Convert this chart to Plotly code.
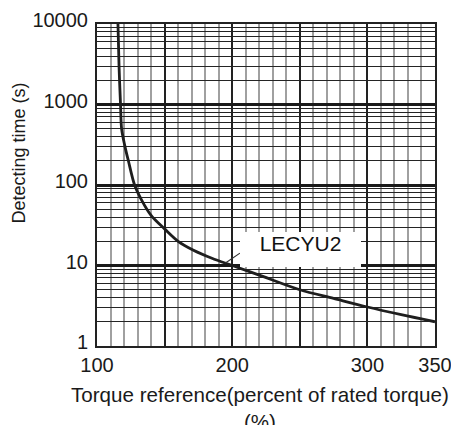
import numpy as np
import plotly.graph_objects as go

# Overload detection characteristic: torque reference (%) vs detecting time (s)
torque = [115.5, 116.3, 117.4, 118.2, 120.7, 123.2, 127.8, 133, 140, 150,
          160, 171, 185, 200, 220, 250, 275, 300, 325, 350]
detect_time = [10000, 3000, 1000, 500, 300, 200, 100, 65, 42, 28.5,
               20, 15.6, 12.3, 10, 7.6, 5.0, 3.9, 3.05, 2.45, 2.0]

x_grid_vals = [100, 150, 200, 250, 300, 350]
x_tick_text = ["100", "", "200", "", "300", "350"]
y_tick_vals = [1, 10, 100, 1000, 10000]
y_tick_text = ["1", "10", "100", "1000", "10000"]
series_label = "LECYU2"
x_title = "Torque reference(percent of rated torque)<br>(%)"
y_title = "Detecting time (s)"

FONT = "Liberation Sans, Arial, sans-serif"
INK = "#1a1a1a"

fig = go.Figure()
fig.add_trace(go.Scatter(
    x=torque, y=detect_time, mode="lines",
    line=dict(color="#1e1e1e", width=2.8, shape="spline", smoothing=0.9),
    hoverinfo="skip", showlegend=False,
))

# leader point on the curve for the series label
lead_x = 195
lead_y = float(np.exp(np.interp(lead_x, torque, np.log(detect_time))))

fig.update_layout(
    width=451, height=425,
    margin=dict(l=97, r=16, t=24, b=79, autoexpand=False),
    paper_bgcolor="white", plot_bgcolor="white",
    font=dict(family=FONT, color=INK, size=20),
    xaxis=dict(
        range=[100, 350], tickmode="array", tickvals=x_grid_vals, ticktext=x_tick_text,
        showgrid=True, gridcolor="#222222", gridwidth=1.6,
        minor=dict(dtick=10, tick0=100, showgrid=True, gridcolor="#a0a0a0", gridwidth=2),
        showline=True, mirror=True, linecolor="#222222", linewidth=2,
        ticks="", zeroline=False, tickfont=dict(size=20),
        ticklabeloverflow="allow", automargin=False,
    ),
    yaxis=dict(
        type="log", range=[0, 4], tickmode="array", tickvals=y_tick_vals, ticktext=y_tick_text,
        showgrid=True, gridcolor="#1a1a1a", gridwidth=2.6,
        minor=dict(dtick="D1", showgrid=True, gridcolor="#242424", gridwidth=1.2),
        showline=True, mirror=True, linecolor="#222222", linewidth=2,
        ticks="", zeroline=False, tickfont=dict(size=20),
        ticklabelshift=-4, ticklabelstandoff=3, ticklabeloverflow="allow",
        automargin=False,
    ),
    annotations=[
        dict(x=lead_x, y=np.log10(lead_y), xref="x", yref="y", text="",
             showarrow=True, arrowhead=0, arrowwidth=1.2, arrowcolor="#333333",
             ax=16, ay=-11, axref="pixel", ayref="pixel"),
        dict(x=0.603, y=0.301, xref="paper", yref="paper", text=series_label,
             xanchor="center", yanchor="middle", valign="top",
             showarrow=False, bgcolor="white", width=121, height=35, borderpad=0,
             borderwidth=0, font=dict(size=21, color="#111111")),
        dict(x=0.4815, y=-0.11, xref="paper", yref="paper", text=x_title,
             showarrow=False, xanchor="center", yanchor="top",
             font=dict(size=20.6, color=INK)),
        dict(x=-0.2296, y=0.599, xref="paper", yref="paper", text=y_title,
             showarrow=False, textangle=-90, xanchor="center", yanchor="middle",
             font=dict(size=18, color=INK)),
    ],
)

fig.write_html("out.html")
